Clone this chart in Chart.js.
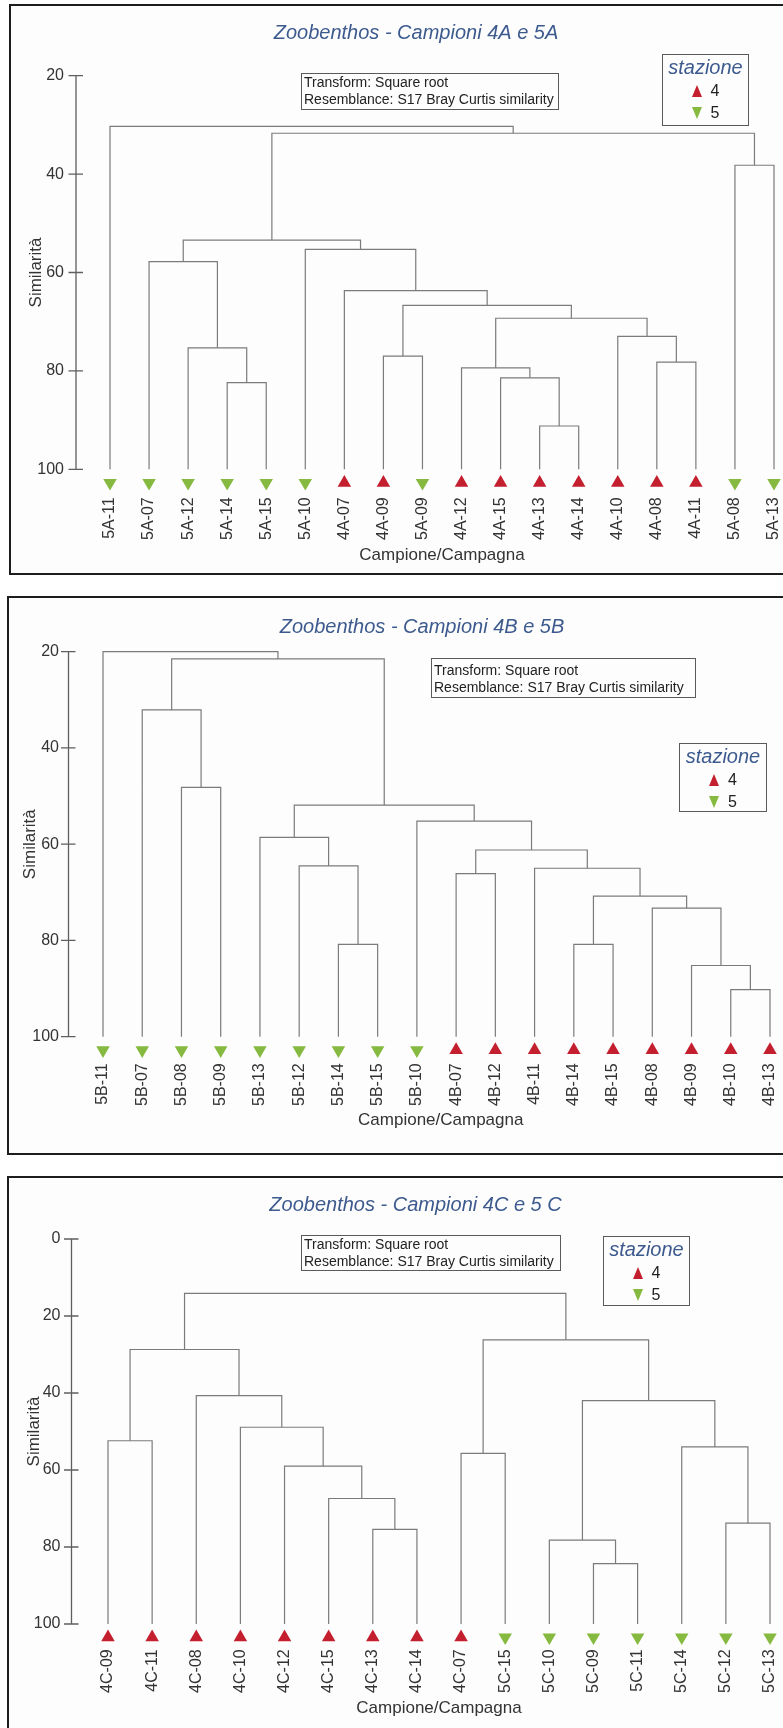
<!DOCTYPE html>
<html>
<head>
<meta charset="utf-8">
<title>Zoobenthos - dendrogrammi</title>
<script src="https://cdn.jsdelivr.net/npm/chart.js@4.4.0/dist/chart.umd.min.js"></script>
<style>
  html, body { margin:0; padding:0; width:783px; height:1728px; overflow:hidden; background:#ffffff;
               font-family:"Liberation Sans", Arial, sans-serif; }
  .frame { position:absolute; border:2px solid #1d1d1d; background:#fdfdfd; box-sizing:border-box; }
  canvas { position:absolute; left:0; }
  .note { position:absolute; border:1.5px solid #5a5a5a; box-sizing:border-box; font-size:14px; line-height:17px;
          color:#222; padding:0 2px; white-space:nowrap; }
  .legend { position:absolute; border:1.5px solid #5a5a5a; box-sizing:border-box; text-align:center; color:#222; }
  .legend .lt { font-size:20px; font-style:italic; color:#3d5a8e; line-height:25px; }
  .legend .row { font-size:16px; line-height:22px; }
  .legend .up, .legend .dn { display:inline-block; width:0; height:0; margin-right:9px; vertical-align:-1px;
          border-left:5.5px solid transparent; border-right:5.5px solid transparent; }
  .legend .up { border-bottom:12px solid #c41f2e; }
  .legend .dn { border-top:12px solid #86b93f; }
</style>
</head>
<body>
<div class="frame" style="left:9px; top:4px; width:800px; height:571px;"></div>
<div class="frame" style="left:7px; top:596px; width:800px; height:559px;"></div>
<div class="frame" style="left:7px; top:1176px; width:800px; height:600px;"></div>

<canvas id="cA"></canvas>
<canvas id="cB"></canvas>
<canvas id="cC"></canvas>

<div class="note" style="left:301px; top:73px; width:258px; height:37px;">Transform: Square root<br>Resemblance: S17 Bray Curtis similarity</div>
<div class="note" style="left:431px; top:658px; width:265px; height:40px; padding-top:3px;">Transform: Square root<br>Resemblance: S17 Bray Curtis similarity</div>
<div class="note" style="left:301px; top:1235px; width:260px; height:36px;">Transform: Square root<br>Resemblance: S17 Bray Curtis similarity</div>

<div class="legend" style="left:662px; top:54px; width:87px; height:72px;">
  <div class="lt">stazione</div><div class="row"><span class="up"></span>4</div><div class="row"><span class="dn"></span>5</div>
</div>
<div class="legend" style="left:679px; top:743px; width:88px; height:69px;">
  <div class="lt">stazione</div><div class="row"><span class="up"></span>4</div><div class="row"><span class="dn"></span>5</div>
</div>
<div class="legend" style="left:603px; top:1236px; width:87px; height:70px;">
  <div class="lt">stazione</div><div class="row"><span class="up"></span>4</div><div class="row"><span class="dn"></span>5</div>
</div>

<script>
// ---- Campioni 4A / 5A ----
const leavesA = ['5A-11','5A-07','5A-12','5A-14','5A-15','5A-10','4A-07','4A-09','5A-09','4A-12','4A-15','4A-13','4A-14','4A-10','4A-08','4A-11','5A-08','5A-13'];
const stationA = [5,5,5,5,5,5,4,4,5,4,4,4,4,4,4,4,5,5];
// [left member, right member, similarity]; members >= leaves.length refer to earlier merges
const mergesA = [[11,12,91.2],[3,4,82.4],[10,18,81.4],[9,20,79.4],[14,15,78.2],[7,8,77.0],[2,19,75.3],[13,22,73.0],
                 [21,25,69.3],[23,26,66.7],[6,27,63.7],[1,24,57.8],[5,28,55.3],[29,30,53.4],[16,17,38.2],[31,32,31.7],[0,33,30.3]];
const yTicksA = [20,40,60,80,100];

// ---- Campioni 4B / 5B ----
const leavesB = ['5B-11','5B-07','5B-08','5B-09','5B-13','5B-12','5B-14','5B-15','5B-10','4B-07','4B-12','4B-11','4B-14','4B-15','4B-08','4B-09','4B-10','4B-13'];
const stationB = [5,5,5,5,5,5,5,5,5,4,4,4,4,4,4,4,4,4];
const mergesB = [[16,17,90.2],[15,18,85.2],[6,7,80.8],[12,13,80.8],[14,19,73.3],[21,22,70.8],[9,10,66.1],[11,23,65.0],
                 [5,20,64.5],[24,25,61.2],[4,26,58.6],[8,27,55.2],[28,29,51.9],[2,3,48.2],[1,31,32.1],[32,30,21.5],[0,33,20.0]];
const yTicksB = [20,40,60,80,100];

// ---- Campioni 4C / 5C ----
const leavesC = ['4C-09','4C-11','4C-08','4C-10','4C-12','4C-15','4C-13','4C-14','4C-07','5C-15','5C-10','5C-09','5C-11','5C-14','5C-12','5C-13'];
const stationC = [4,4,4,4,4,4,4,4,4,5,5,5,5,5,5,5];
const mergesC = [[11,12,84.3],[10,16,78.2],[6,7,75.4],[14,15,73.8],[5,18,67.4],[4,20,59.0],[8,9,55.7],[13,19,54.0],
                 [0,1,52.4],[3,21,48.9],[17,23,42.0],[2,25,40.7],[24,27,28.7],[22,26,26.2],[28,29,14.1]];
const yTicksC = [0,20,40,60,80,100];

const FONT = '"Liberation Sans", Arial, sans-serif';
Chart.defaults.font.family = FONT;
const RED = '#c41f2e', GREEN = '#86b93f', LINK = '#7b7b7b', TEXT = '#333333', TITLE = '#3d5a8e';

// One U-shaped link per merge; a cluster sits midway between its two members.
function linkDatasets(n, merges) {
  const xs = [], tops = [];
  for (let i = 0; i < n; i++) { xs.push(i); tops.push(100); }
  return merges.map(([a, b, s]) => {
    const ds = {
      data: [{x: xs[a], y: tops[a]}, {x: xs[a], y: s}, {x: xs[b], y: s}, {x: xs[b], y: tops[b]}],
      showLine: true, borderColor: LINK, borderWidth: 1.2, pointRadius: 0, tension: 0, clip: false
    };
    xs.push((xs[a] + xs[b]) / 2); tops.push(s);
    return ds;
  });
}

// Vertical axis with ticks crossing the line
const axisLine = {
  id: 'axisLine',
  afterDraw(chart) {
    const {ctx, chartArea, scales: {y}} = chart;
    const x0 = chartArea.left;
    ctx.save();
    ctx.strokeStyle = '#5f5f5f'; ctx.lineWidth = 1.3;
    ctx.beginPath();
    ctx.moveTo(x0, y.getPixelForValue(y.min)); ctx.lineTo(x0, y.getPixelForValue(y.max));
    y.ticks.forEach(t => { const py = y.getPixelForValue(t.value); ctx.moveTo(x0 - 7.5, py); ctx.lineTo(x0 + 7, py); });
    ctx.stroke();
    ctx.restore();
  }
};

// Station symbol under each sample
const leafMarks = {
  id: 'leafMarks',
  afterDatasetsDraw(chart, args, opts) {
    const {ctx, chartArea, scales: {x}} = chart;
    const cy = chartArea.bottom + opts.gap, r = 7.8, h = r * 0.866;
    ctx.save();
    opts.stations.forEach((st, i) => {
      const px = x.getPixelForValue(i);
      ctx.beginPath();
      if (st === 4) { ctx.moveTo(px, cy - r); ctx.lineTo(px + h, cy + r / 2); ctx.lineTo(px - h, cy + r / 2); ctx.fillStyle = RED; }
      else { ctx.moveTo(px, cy + r); ctx.lineTo(px + h, cy - r / 2); ctx.lineTo(px - h, cy - r / 2); ctx.fillStyle = GREEN; }
      ctx.closePath(); ctx.fill();
    });
    ctx.restore();
  }
};

function dendrogram(p) {
  const cv = document.getElementById(p.id);
  cv.width = p.width; cv.height = p.height;
  cv.style.top = p.top + 'px';
  cv.style.width = p.width + 'px'; cv.style.height = p.height + 'px';
  return new Chart(cv.getContext('2d'), {
    type: 'scatter',
    data: { datasets: linkDatasets(p.leaves.length, p.merges) },
    options: {
      responsive: false, animation: false, events: [],
      layout: { padding: { left: p.padL, right: p.padR, top: 0, bottom: 0 } },
      plugins: {
        legend: { display: false }, tooltip: { enabled: false },
        title: { display: true, text: p.title, color: TITLE,
                 font: { family: FONT, size: 20, style: 'italic', weight: 'normal' },
                 padding: p.titlePad },
        leafMarks: { stations: p.stations, gap: p.markGap }
      },
      scales: {
        x: {
          type: 'linear', min: p.xMin, max: p.xMax,
          grid: { display: false, drawTicks: false }, border: { display: false },
          afterBuildTicks: s => { s.ticks = p.leaves.map((_, i) => ({ value: i })); },
          afterFit: s => { s.height = p.xHeight; },
          ticks: { autoSkip: false, minRotation: 90, maxRotation: 90, padding: p.xTickPad, color: TEXT,
                   font: { size: 16 }, callback: v => p.leaves[Math.round(v)] },
          title: { display: true, text: 'Campione/Campagna', color: TEXT, font: { size: 17 },
                   padding: { top: 0, bottom: p.xTitlePad } }
        },
        y: {
          type: 'linear', reverse: true, min: p.yTicks[0], max: p.yTicks[p.yTicks.length - 1],
          grid: { display: false, drawTicks: false }, border: { display: false },
          afterBuildTicks: s => { s.ticks = p.yTicks.map(v => ({ value: v })); },
          afterFit: s => { s.width = p.yWidth; },
          ticks: { padding: p.yTickPad, color: TEXT, font: { size: 16 } },
          title: { display: true, text: 'Similarità', color: TEXT, font: { size: 17 },
                   padding: { top: p.yTitlePad, bottom: 0 } }
        }
      }
    },
    plugins: [axisLine, leafMarks]
  });
}

dendrogram({ id: 'cA', title: 'Zoobenthos - Campioni 4A e 5A', leaves: leavesA, stations: stationA, merges: mergesA, yTicks: yTicksA,
  top: 5, height: 569, width: 828, padL: 24, padR: 20, yWidth: 52, yTickPad: 12, yTitlePad: 1.8,
  titlePad: { top: 16, bottom: 30.7 }, xHeight: 104.7, xTickPad: 28, xTitlePad: 8.8,
  xMin: -0.8705, xMax: 17.8705, markGap: 13.5 });

dendrogram({ id: 'cB', title: 'Zoobenthos - Campioni 4B e 5B', leaves: leavesB, stations: stationB, merges: mergesB, yTicks: yTicksB,
  top: 598, height: 555, width: 834, padL: 31, padR: 21, yWidth: 37.5, yTickPad: 9.5, yTitlePad: -11.2,
  titlePad: { top: 17, bottom: 12.7 }, xHeight: 116.3, xTickPad: 26.6, xTitlePad: 22.1,
  xMin: -0.8793, xMax: 18.096, markGap: 13.4 });

dendrogram({ id: 'cC', title: 'Zoobenthos - Campioni 4C e 5 C', leaves: leavesC, stations: stationC, merges: mergesC, yTicks: yTicksC,
  top: 1178, height: 550, width: 827, padL: 24.5, padR: 20.5, yWidth: 47, yTickPad: 11, yTitlePad: -0.2,
  titlePad: { top: 15, bottom: 22 }, xHeight: 104, xTickPad: 25.3, xTitlePad: 9.5,
  xMin: -0.827, xMax: 15.827, markGap: 13.3 });
</script>
</body>
</html>
